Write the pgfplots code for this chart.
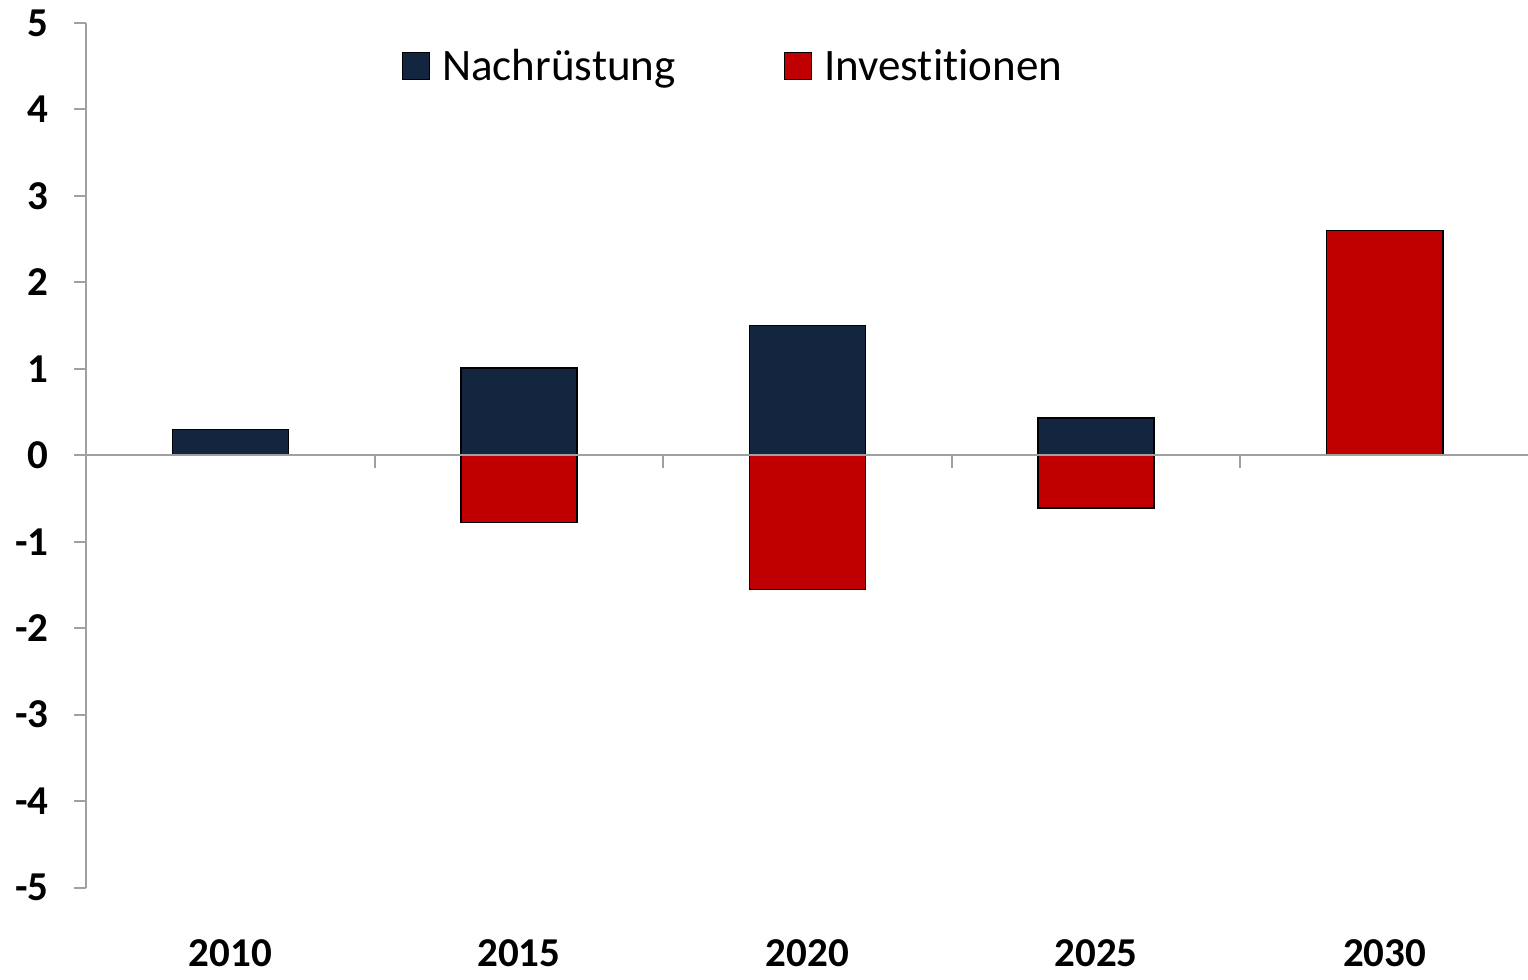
\documentclass[border=0pt]{standalone}
\usepackage{pgfplots}
\pgfplotsset{compat=1.18}
\usepackage{fontspec}
\setmainfont{Carlito}[Ligatures={NoCommon,NoRequired,NoContextual}]
\definecolor{navy}{HTML}{13253F}
\definecolor{darkred}{HTML}{C00000}
\definecolor{axgray}{HTML}{A0A0A0}
\begin{document}
\begin{tikzpicture}
\begin{axis}[
  scale only axis,
  width=721pt, height=432pt,
  xmin=-0.5, xmax=4.5,
  ymin=-5, ymax=5,
  axis y line*=left,
  axis x line*=bottom,
  x axis line style={draw=none},
  y axis line style={draw=axgray, line width=1pt},
  xtick={0,1,2,3,4},
  xticklabels={2010,2015,2020,2025,2030},
  xtick style={draw=none},
  ytick={-5,-4,-3,-2,-1,0,1,2,3,4,5},
  yticklabels={-5,-4,-3,-2,-1,0,1,2,3,4,5},
  ytick style={draw=axgray, line width=1pt},
  tick align=outside,
  major tick length=6pt,
  yticklabel style={font=\fontsize{20.5}{24}\selectfont\bfseries, inner sep=0pt, xshift=-12.5pt, anchor=east},
  xticklabel style={font=\fontsize{20.5}{24}\selectfont\bfseries, inner sep=0pt, yshift=-20pt, anchor=north},
  ybar, bar width=58pt, bar shift=0pt,
  legend columns=2,
  legend style={draw=none, fill=none, at={(rel axis cs:0.449,0.95)}, anchor=center,
    font=\fontsize{22.5}{26}\selectfont,
    /tikz/every odd column/.append style={column sep=4pt},
    /tikz/every even column/.append style={column sep=52pt},
    nodes={inner sep=2pt}},
  legend image code/.code={\draw[#1] (0pt,-6.75pt) rectangle (13.5pt,6.75pt);},
  clip=false,
]
\addplot[fill=navy, draw=black, line width=0.75pt] coordinates {(0,0.30) (1,1.01) (2,1.50) (3,0.43)};
\addlegendentry{Nachrüstung}
\addplot[fill=darkred, draw=black, line width=0.75pt] coordinates {(1,-0.78) (2,-1.55) (3,-0.61) (4,2.60)};
\addlegendentry{Investitionen}
\draw[axgray, line width=1pt] (axis cs:-0.5,0) -- (axis cs:4.5,0);
\draw[axgray, line width=1pt] (axis cs:-0.5,0) -- ([yshift=-6.5pt]axis cs:-0.5,0);
\draw[axgray, line width=1pt] (axis cs:0.5,0) -- ([yshift=-6.5pt]axis cs:0.5,0);
\draw[axgray, line width=1pt] (axis cs:1.5,0) -- ([yshift=-6.5pt]axis cs:1.5,0);
\draw[axgray, line width=1pt] (axis cs:2.5,0) -- ([yshift=-6.5pt]axis cs:2.5,0);
\draw[axgray, line width=1pt] (axis cs:3.5,0) -- ([yshift=-6.5pt]axis cs:3.5,0);
\end{axis}
\pgfresetboundingbox
\useasboundingbox ([xshift=-43pt,yshift=-46pt]current axis.south west) rectangle ([xshift=-0.5pt,yshift=11.5pt]current axis.north east);
\end{tikzpicture}
\end{document}
